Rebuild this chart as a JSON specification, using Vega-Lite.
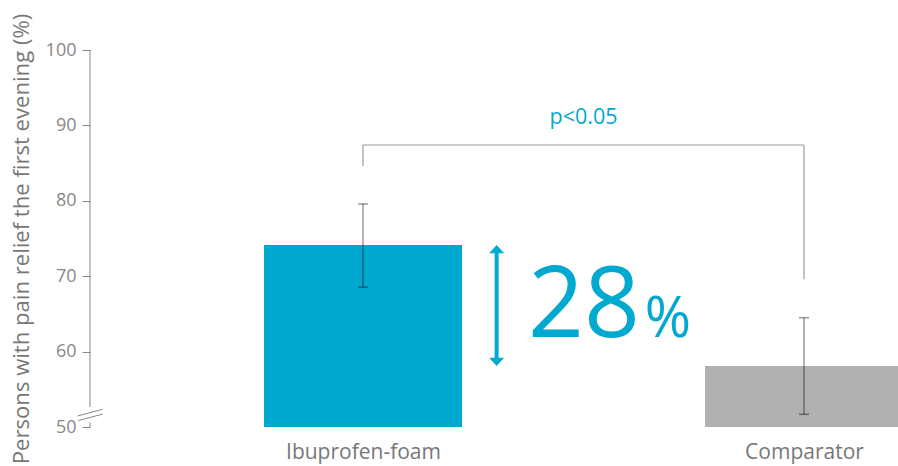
{
  "$schema": "https://vega.github.io/schema/vega-lite/v6.json",
  "autosize": {"type": "none"},
  "padding": {"left": 90, "top": 50, "right": 0, "bottom": 39},
  "width": 808,
  "height": 377,
  "background": "white",
  "config": {"font": "Open Sans", "view": {"stroke": null}},
  "datasets": {
    "bars": [
      {"group": "Ibuprofen-foam", "pos": 1, "value": 74.14, "lo": 68.53, "hi": 79.58},
      {"group": "Comparator", "pos": 2, "value": 58.09, "lo": 51.68, "hi": 64.5}
    ]
  },
  "layer": [
    {
      "data": {"name": "bars"},
      "mark": {"type": "bar", "size": 198},
      "encoding": {
        "x": {
          "field": "pos", "type": "quantitative",
          "scale": {"domain": [0.38095, 2.21315], "nice": false, "zero": false, "padding": 0},
          "axis": {
            "values": [1, 2],
            "labelExpr": "datum.value == 1 ? 'Ibuprofen-foam' : 'Comparator'",
            "domain": false, "ticks": false, "grid": false, "title": null,
            "labelFontSize": 21, "labelColor": "#777777", "labelPadding": 14,
            "labelFlush": false, "labelOverlap": false, "labelBound": false
          }
        },
        "y": {
          "field": "value", "type": "quantitative",
          "scale": {"domain": [50, 100], "nice": false, "zero": false, "padding": 0},
          "axis": {
            "values": [50, 60, 70, 80, 90, 100],
            "domain": false, "grid": false,
            "tickSize": 8, "tickColor": "#888888", "tickWidth": 1,
            "labelFontSize": 18, "labelColor": "#888888", "labelPadding": 6,
            "title": "Persons with pain relief the first evening (%)",
            "titleFontSize": 22.1, "titleFontWeight": "normal", "titleColor": "#777777",
            "titlePadding": 12, "titleLimit": 600
          }
        },
        "y2": {"datum": 50},
        "color": {
          "field": "group", "type": "nominal",
          "scale": {"domain": ["Ibuprofen-foam", "Comparator"], "range": ["#00A9CF", "#B0B0B0"]},
          "legend": null
        }
      }
    },
    {
      "data": {"name": "bars"},
      "mark": {"type": "rule", "color": "#000000", "opacity": 0.4, "strokeWidth": 1.5},
      "encoding": {
        "x": {"field": "pos", "type": "quantitative"},
        "y": {"field": "lo", "type": "quantitative"},
        "y2": {"field": "hi"}
      }
    },
    {
      "data": {"name": "bars"},
      "mark": {"type": "tick", "orient": "horizontal", "size": 10, "thickness": 1.5, "color": "#000000", "opacity": 0.4},
      "encoding": {
        "x": {"field": "pos", "type": "quantitative"},
        "y": {"field": "lo", "type": "quantitative"}
      }
    },
    {
      "data": {"name": "bars"},
      "mark": {"type": "tick", "orient": "horizontal", "size": 10, "thickness": 1.5, "color": "#000000", "opacity": 0.4},
      "encoding": {
        "x": {"field": "pos", "type": "quantitative"},
        "y": {"field": "hi", "type": "quantitative"}
      }
    },
    {
      "data": {"values": [
        {"x": 1, "x2": 2, "y": 87.4, "y2": 87.4},
        {"x": 1, "x2": 1, "y": 84.6, "y2": 87.4},
        {"x": 2, "x2": 2, "y": 69.6, "y2": 87.4}
      ]},
      "mark": {"type": "rule", "color": "#9a9a9a", "strokeWidth": 1.2},
      "encoding": {
        "x": {"field": "x", "type": "quantitative"},
        "x2": {"field": "x2"},
        "y": {"field": "y", "type": "quantitative"},
        "y2": {"field": "y2"}
      }
    },
    {
      "data": {"values": [{"x": 1.5, "y": 90.25, "label": "p<0.05"}]},
      "mark": {"type": "text", "fontSize": 21.5, "color": "#00A9CF", "align": "center", "baseline": "alphabetic"},
      "encoding": {
        "x": {"field": "x", "type": "quantitative"},
        "y": {"field": "y", "type": "quantitative"},
        "text": {"field": "label"}
      }
    },
    {
      "data": {"values": [{"x": 1.303, "y": 58.9, "y2": 73.3}]},
      "mark": {"type": "rule", "color": "#00A9CF", "strokeWidth": 4},
      "encoding": {
        "x": {"field": "x", "type": "quantitative"},
        "y": {"field": "y", "type": "quantitative"},
        "y2": {"field": "y2"}
      }
    },
    {
      "data": {"values": [{"x": 1.303, "y": 74.14}]},
      "mark": {"type": "point", "shape": "M0,0L1,1.1L-1,1.1Z", "filled": true, "size": 225, "color": "#00A9CF", "opacity": 1},
      "encoding": {
        "x": {"field": "x", "type": "quantitative"},
        "y": {"field": "y", "type": "quantitative"}
      }
    },
    {
      "data": {"values": [{"x": 1.303, "y": 58.09}]},
      "mark": {"type": "point", "shape": "M0,0L1,-1.1L-1,-1.1Z", "filled": true, "size": 225, "color": "#00A9CF", "opacity": 1},
      "encoding": {
        "x": {"field": "x", "type": "quantitative"},
        "y": {"field": "y", "type": "quantitative"}
      }
    },
    {
      "data": {"values": [{"x": 1.374, "y": 61.98, "label": "28"}]},
      "mark": {"type": "text", "fontSize": 98, "color": "#00A9CF", "align": "left", "baseline": "alphabetic"},
      "encoding": {
        "x": {"field": "x", "type": "quantitative"},
        "y": {"field": "y", "type": "quantitative"},
        "text": {"field": "label"}
      }
    },
    {
      "data": {"values": [{"x": 1.639, "y": 61.98, "label": "%"}]},
      "mark": {"type": "text", "fontSize": 56, "color": "#00A9CF", "align": "left", "baseline": "alphabetic"},
      "encoding": {
        "x": {"field": "x", "type": "quantitative"},
        "y": {"field": "y", "type": "quantitative"},
        "text": {"field": "label"}
      }
    },
    {
      "data": {"values": [
        {"x": 0.38095, "x2": 0.38095, "y": 52.65, "y2": 100},
        {"x": 0.38095, "x2": 0.38095, "y": 50, "y2": 50.6},
        {"x": 0.3527, "x2": 0.4098, "y": 51.46, "y2": 52.35},
        {"x": 0.3545, "x2": 0.4098, "y": 50.84, "y2": 51.72}
      ]},
      "mark": {"type": "rule", "color": "#888888", "strokeWidth": 1},
      "encoding": {
        "x": {"field": "x", "type": "quantitative"},
        "x2": {"field": "x2"},
        "y": {"field": "y", "type": "quantitative"},
        "y2": {"field": "y2"}
      }
    }
  ]
}
